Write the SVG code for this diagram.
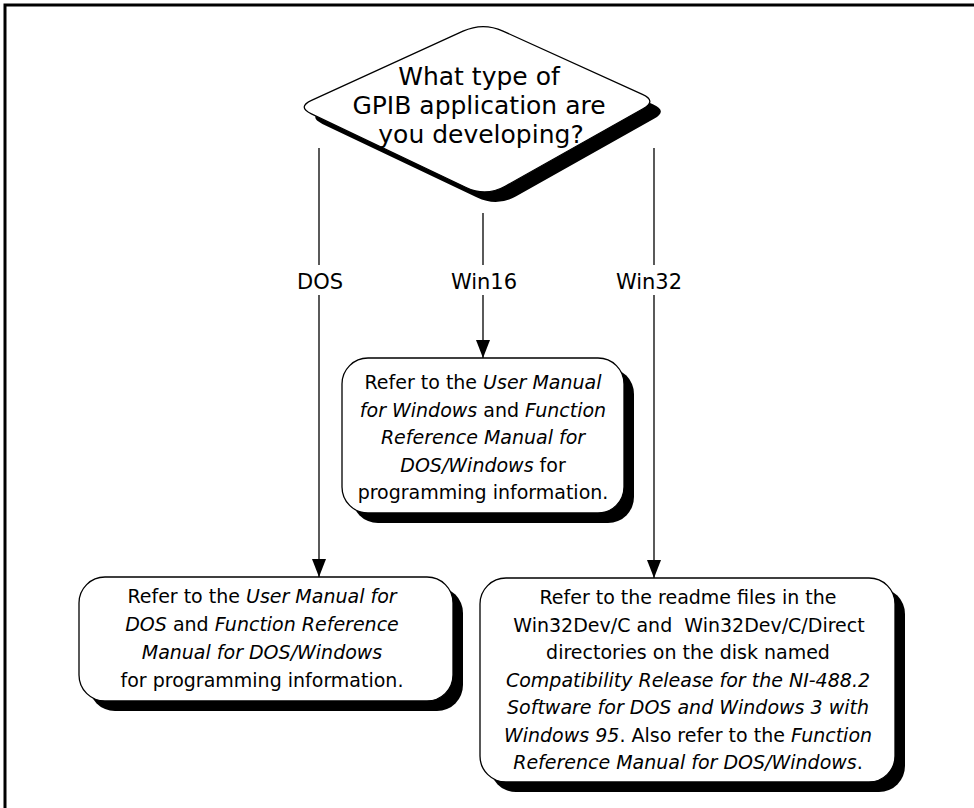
<svg xmlns="http://www.w3.org/2000/svg" width="974" height="808" viewBox="0 0 974 808">
<style>
  text { font-family: "DejaVu Sans", "Liberation Sans", sans-serif; fill: #000; text-anchor: middle; }
  .q { font-size: 25px; }
  .lbl { font-size: 21px; }
  .bx { font-size: 19px; }
  .i { font-style: italic; }
  .shape { fill: #fff; stroke: #000; stroke-width: 1.3; }
  .shadow { fill: #000; stroke: none; }
  .conn { stroke: #000; stroke-width: 1.3; fill: none; }
</style>
<defs>
  <marker id="arr" viewBox="0 0 18 14" refX="18" refY="7" markerWidth="18" markerHeight="14" markerUnits="userSpaceOnUse" orient="auto">
    <path d="M0,0 L18,7 L0,14 Z" fill="#000"/>
  </marker>
</defs>
<rect width="974" height="808" fill="#fff"/>
<path d="M5,808 V5 H974" fill="none" stroke="#000" stroke-width="3"/>

<g id="decision">
  <path class="shadow" transform="translate(11,10)" d="M463,31.2 Q483,22 503,31.1 L642.4,94.4 Q657,101 643,108.8 L505.2,186.2 Q486,197 466.1,187.5 L311.4,113.9 Q297,107 311.5,100.3 Z"/>
  <path class="shape" d="M463,31.2 Q483,22 503,31.1 L642.4,94.4 Q657,101 643,108.8 L505.2,186.2 Q486,197 466.1,187.5 L311.4,113.9 Q297,107 311.5,100.3 Z"/>
  <text class="q" x="479" y="85">What type of</text>
  <text class="q" x="479" y="114">GPIB application are</text>
  <text class="q" x="481" y="143">you developing?</text>
</g>

<g id="connectors">
  <line class="conn" x1="319" y1="148" x2="319" y2="265"/>
  <line class="conn" x1="319" y1="295" x2="319" y2="577" marker-end="url(#arr)"/>
  <line class="conn" x1="483" y1="213" x2="483" y2="265"/>
  <line class="conn" x1="483" y1="295" x2="483" y2="358" marker-end="url(#arr)"/>
  <line class="conn" x1="654" y1="148" x2="654" y2="265"/>
  <line class="conn" x1="654" y1="295" x2="654" y2="578" marker-end="url(#arr)"/>
  <text class="lbl" x="320" y="289">DOS</text>
  <text class="lbl" x="484" y="289">Win16</text>
  <text class="lbl" x="649" y="289">Win32</text>
</g>

<g id="win16">
  <rect class="shadow" x="352" y="368" width="282" height="155" rx="26"/>
  <rect class="shape" x="342" y="358" width="282" height="155" rx="26"/>
  <text class="bx" x="483" y="389">Refer to the <tspan class="i">User Manual</tspan></text>
  <text class="bx" x="483" y="416.5"><tspan class="i">for Windows</tspan> and <tspan class="i">Function</tspan></text>
  <text class="bx" x="483" y="444"><tspan class="i">Reference Manual for</tspan></text>
  <text class="bx" x="483" y="471.5"><tspan class="i">DOS/Windows</tspan> for</text>
  <text class="bx" x="483" y="499">programming information.</text>
</g>

<g id="dos">
  <rect class="shadow" x="89" y="587" width="374" height="124" rx="26"/>
  <rect class="shape" x="79" y="577" width="374" height="124" rx="26"/>
  <text class="bx" x="262" y="603">Refer to the <tspan class="i">User Manual for</tspan></text>
  <text class="bx" x="262" y="631"><tspan class="i">DOS</tspan> and <tspan class="i">Function Reference</tspan></text>
  <text class="bx" x="262" y="659"><tspan class="i">Manual for DOS/Windows</tspan></text>
  <text class="bx" x="262" y="687">for programming information.</text>
</g>

<g id="win32">
  <rect class="shadow" x="490" y="588" width="415" height="204" rx="26"/>
  <rect class="shape" x="480" y="578" width="415" height="204" rx="26"/>
  <text class="bx" x="688" y="604">Refer to the readme files in the</text>
  <text class="bx" x="689" y="631.5" style="white-space:pre">Win32Dev/C and  Win32Dev/C/Direct</text>
  <text class="bx" x="688" y="659">directories on the disk named</text>
  <text class="bx" x="688" y="686.5"><tspan class="i">Compatibility Release for the NI-488.2</tspan></text>
  <text class="bx" x="688" y="714"><tspan class="i">Software for DOS and Windows 3 with</tspan></text>
  <text class="bx" x="688" y="741.5"><tspan class="i">Windows 95</tspan>. Also refer to the <tspan class="i">Function</tspan></text>
  <text class="bx" x="688" y="769"><tspan class="i">Reference Manual for DOS/Windows</tspan>.</text>
</g>
</svg>
